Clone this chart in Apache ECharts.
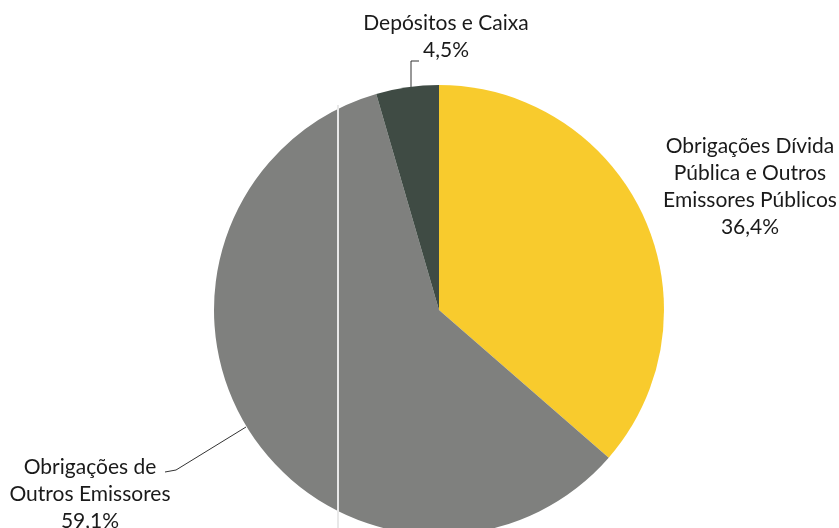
<!DOCTYPE html>
<html>
<head>
<meta charset="utf-8">
<script src="https://cdn.jsdelivr.net/npm/echarts@6/dist/echarts.min.js"></script>
<style>html,body{margin:0;padding:0;background:#fff}#c{width:839px;height:528px}</style>
</head>
<body>
<div id="c"></div>
<script>
const categories = ['Obrigações Dívida\nPública e Outros\nEmissores Públicos', 'Obrigações de\nOutros Emissores', 'Depósitos e Caixa'];
const values = [36.4, 59.1, 4.5];
const colors = ['#F8CB2D', '#7F807E', '#3F4B44'];
const labelPos = [[750, 187], [90, 494], [446, 37]];
const leaderPts = [null, [[246, 427], [176, 470], [165, 472]], [[411, 87], [411, 61], [419, 61]]];

const chart = echarts.init(document.getElementById('c'));
chart.setOption({
  animation: false,
  series: [{
    type: 'pie',
    center: [439, 310],
    radius: 225,
    startAngle: 90,
    clockwise: true,
    data: categories.map((n, i) => ({
      name: n, value: values[i],
      itemStyle: { color: colors[i] },
      labelLine: { show: i !== 0 }
    })),
    label: {
      show: true,
      formatter: p => p.name + '\n' + p.value.toFixed(1).replace('.', ',') + '%',
      fontFamily: 'Lato',
      fontSize: 21,
      lineHeight: 27,
      color: '#1a1a1a',
      align: 'center',
      overflow: 'none',
      width: 300
    },
    labelLine: { show: true, lineStyle: { color: '#333', width: 1 }, length: 20, length2: 10 },
    labelLayout: p => {
      const o = { x: labelPos[p.dataIndex][0], y: labelPos[p.dataIndex][1], align: 'center', verticalAlign: 'middle' };
      if (leaderPts[p.dataIndex]) o.labelLinePoints = leaderPts[p.dataIndex];
      return o;
    }
  }],
  graphic: [{
    type: 'line', z: 100,
    shape: { x1: 338, y1: 105, x2: 338, y2: 528 },
    style: { stroke: '#e8e8e8', lineWidth: 2 }
  }]
});
</script>
</body>
</html>
